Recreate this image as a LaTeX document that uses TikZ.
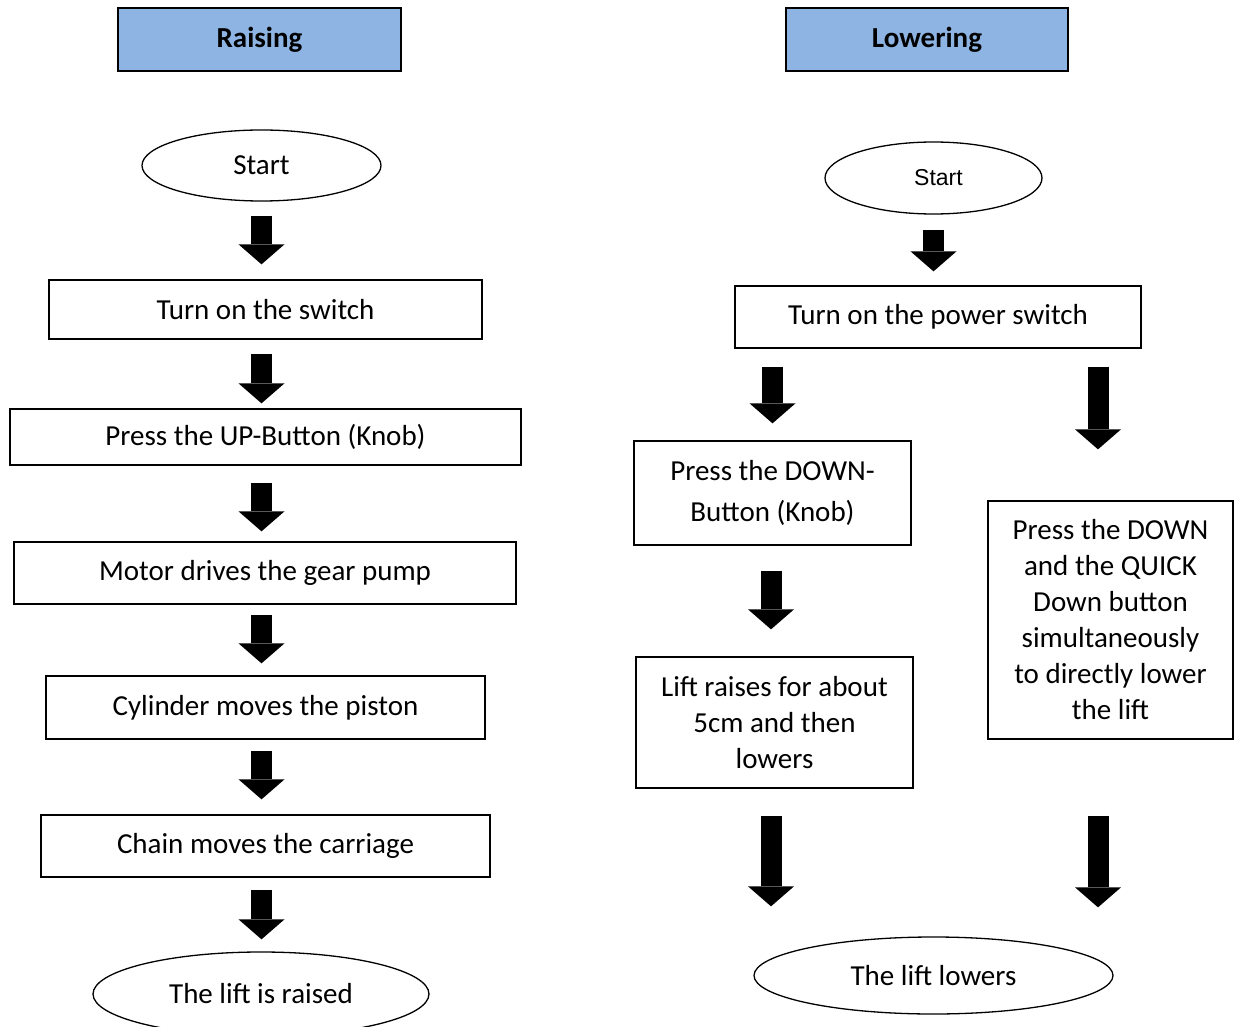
\documentclass[tikz,border=0pt]{standalone}
\usepackage{fontspec}
\setmainfont{Carlito}
\newfontfamily\arialfont{Liberation Sans}
\usetikzlibrary{arrows.meta,shapes.geometric}
\definecolor{headblue}{RGB}{141,180,226}

\begin{document}
\begin{tikzpicture}[x = 1pt, y = -1pt, every node/.style = {draw = black, line width = 1.3pt, inner sep = 0pt, align = center, font = \fontsize{29}{36}\selectfont},
	box/.style = {rectangle}, oval/.style = {ellipse},
	head/.style = {rectangle, fill = headblue, line width = 2pt, font = \fontsize{29}{36}\selectfont\bfseries},
	flow/.style = {line width = 21pt, -{Triangle[width = 46pt, length = 20pt, line width = 0pt]}}]

	\useasboundingbox (0, 0) rectangle (1234, 1027);

	% raising
	\node (raise)  at (259.5,  39.5) [head, minimum width = 283, minimum height = 63] {Raising};
	\node (start1) at (261.5, 165.5) [oval, minimum width = 239, minimum height = 71] {Start};
	\node (sw1)    at (265.5, 309.5) [box, minimum width = 433, minimum height = 59] {Turn on the switch};
	\node (up)     at (265.5, 437  ) [box, minimum width = 511, minimum height = 56] {Press the UP-Button (Knob)};
	\node (motor)  at (265  , 573  ) [box, minimum width = 502, minimum height = 62] {Motor drives the gear pump};
	\node (cyl)    at (265.5, 707.5) [box, minimum width = 439, minimum height = 63] {Cylinder moves the piston};
	\node (chain)  at (265.5, 846  ) [box, minimum width = 449, minimum height = 62] {Chain moves the carriage};
	\node (raised) at (261  , 994  ) [oval, minimum width = 336, minimum height = 84] {The lift is raised};

	% lowering
	\node (lower)  at (927  ,  39.5) [head, minimum width = 282, minimum height = 63] {Lowering};
	\node (start2) at (933.5, 178  ) [oval, minimum width = 217, minimum height = 72, font = \arialfont\fontsize{23}{26}\selectfont] {\hspace{10pt}Start};
	\node (sw2)    at (938  , 317  ) [box, minimum width = 406, minimum height = 62] {Turn on the power switch};
	\node (down)   at (772.5, 493  ) [box, minimum width = 277, minimum height = 104, font = \fontsize{29}{41}\selectfont] {Press the DOWN-\\Button (Knob)};
	\node (lift)   at (774.5, 722.5) [box, minimum width = 277, minimum height = 131] {Lift raises for about\\5cm and then\\lowers};
	\node (quick)  at (1110.5, 620 ) [box, minimum width = 245, minimum height = 238] {Press the DOWN\\and the QUICK\\Down button\\simultaneously\\to directly lower\\the lift};
	\node (lowers) at (933.5, 975.5) [oval, minimum width = 359, minimum height = 77] {The lift lowers};

	\foreach \from/\to/\s/\e in {start1/sw1/14/15, sw1/up/14/5, up/motor/17/10, motor/cyl/10/12, cyl/chain/11/15, chain/raised/12/12}
		\draw [flow, shorten <= \s pt, shorten >= \e pt] (start1 |- \from.south) -- (start1 |- \to.north);

	\draw [flow, shorten <= 15pt, shorten >= 14pt] (start2.south) -- (start2.south |- sw2.north);
	\draw [flow, shorten <= 18pt, shorten >= 17pt] (down.north |- sw2.south) -- (down.north);
	\draw [flow, shorten <= 18pt, shorten >= 51pt] ([xshift = -12.5pt]quick.north |- sw2.south) -- ([xshift = -12.5pt]quick.north);
	\draw [flow, shorten <= 25pt, shorten >= 27pt] ([xshift = -1.5pt]down.south) -- ([xshift = -1.5pt]down.south |- lift.north);
	\draw [flow, shorten <= 27pt, shorten >= 30pt] ([xshift = -3.5pt]lift.south) -- ([xshift = -3.5pt]lift.south |- lowers.north);
	\draw [flow, shorten <= 76pt, shorten >= 29pt] ([xshift = -12.5pt]quick.south) -- ([xshift = -12.5pt]quick.south |- lowers.north);

\end{tikzpicture}
\end{document}
